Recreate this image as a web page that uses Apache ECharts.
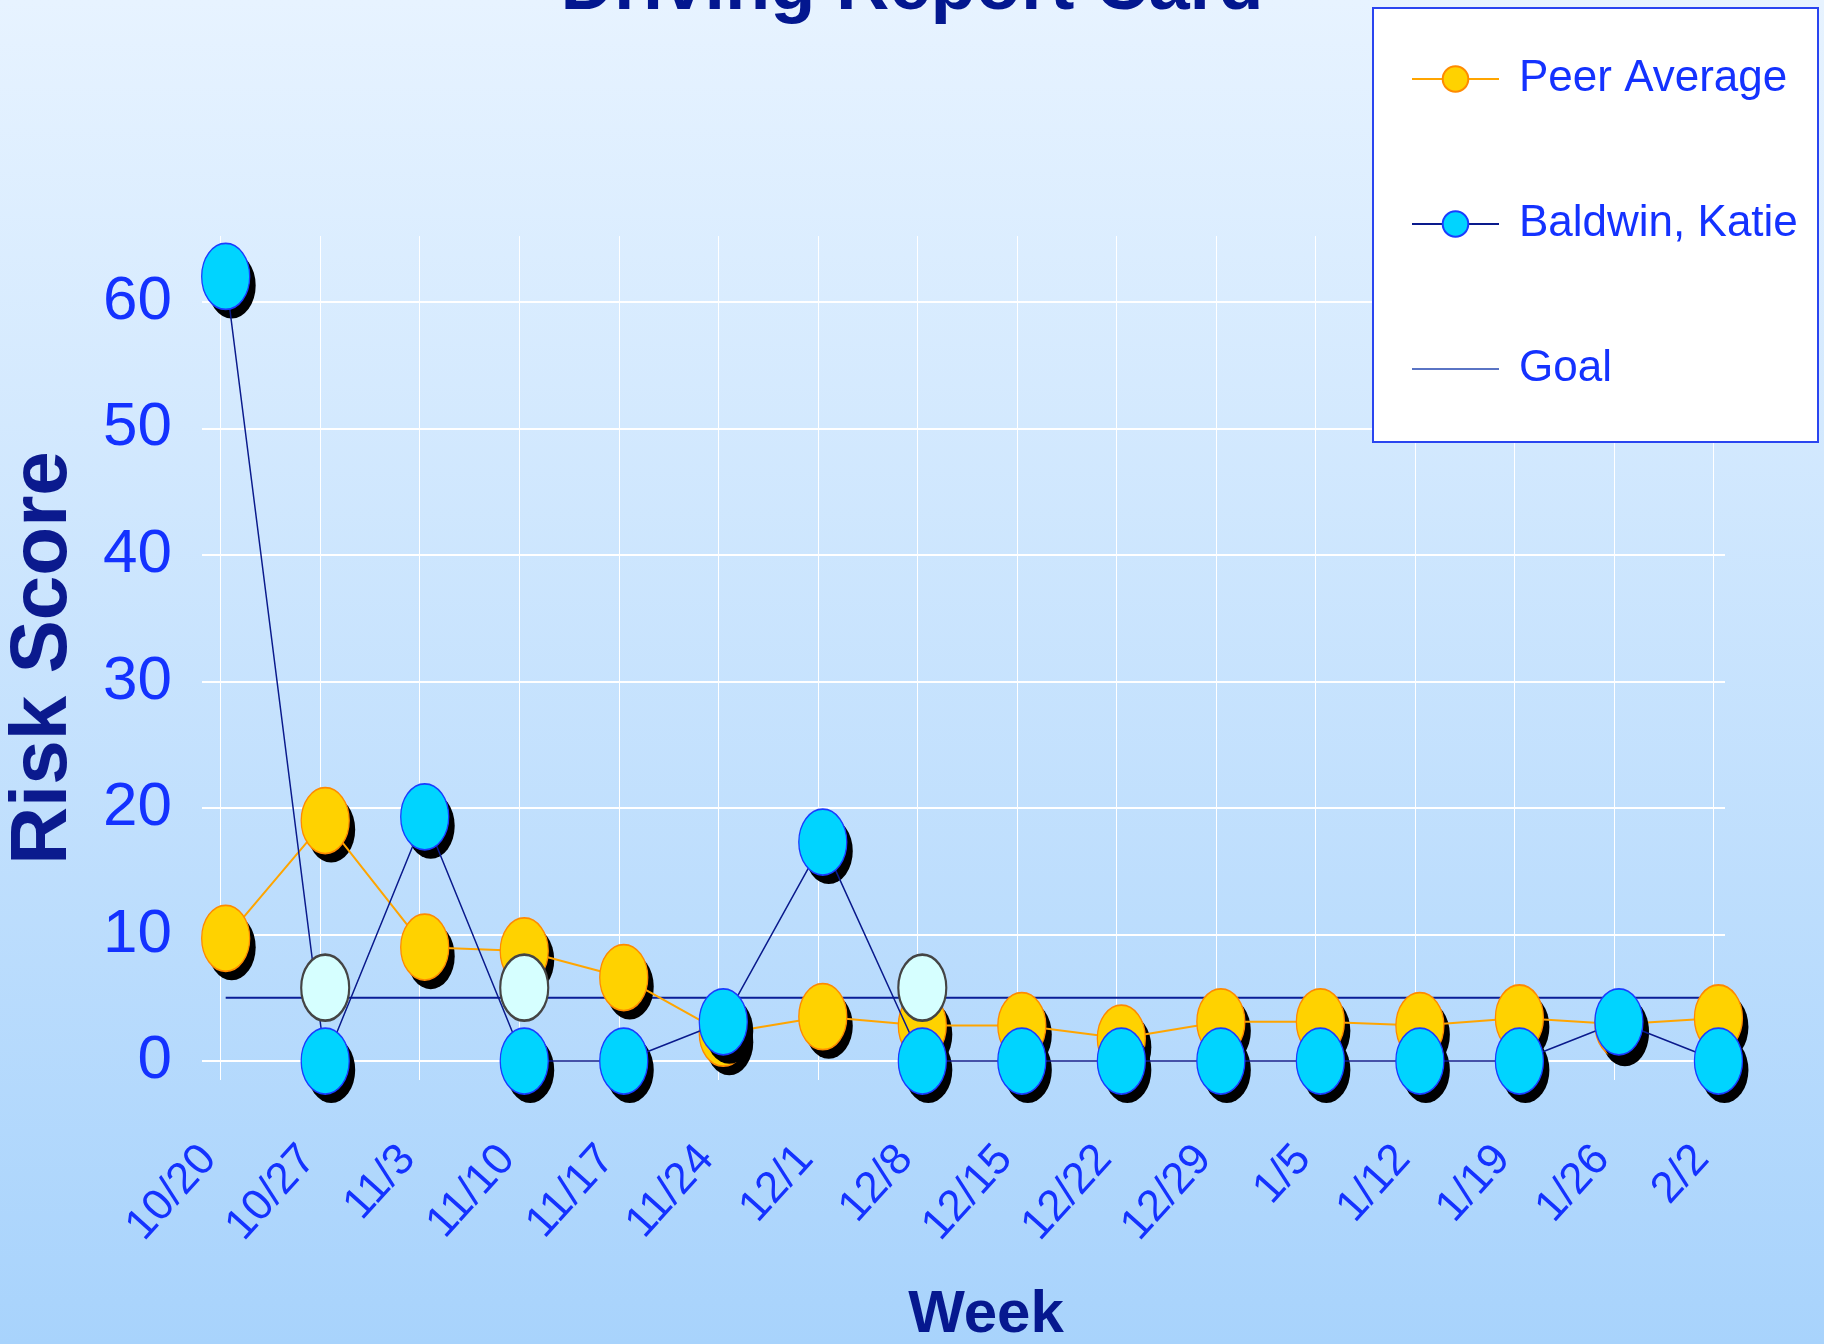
<!DOCTYPE html>
<html>
<head>
<meta charset="utf-8">
<script src="https://cdn.jsdelivr.net/npm/echarts@6/dist/echarts.min.js"></script>
<style>
html,body{margin:0;padding:0;}
#chart{width:1824px;height:1344px;}
</style>
</head>
<body>
<div id="chart"></div>
<script>
const weeks = ['10/20','10/27','11/3','11/10','11/17','11/24','12/1','12/8','12/15','12/22','12/29','1/5','1/12','1/19','1/26','2/2'];
const peerAverage = [9.7, 19.0, 9.0, 8.7, 6.6, 2.2, 3.5, 2.8, 2.8, 1.8, 3.1, 3.1, 2.8, 3.4, 2.9, 3.4];
const baldwinKatie = [62.0, 0, 19.3, 0, 0, 3.1, 17.3, 0, 0, 0, 0, 0, 0, 0, 3.1, 0];
const goal = [5, 5, 5, 5, 5, 5, 5, 5, 5, 5, 5, 5, 5, 5, 5, 5];
const flagged = [null, 5.8, null, 5.8, null, null, null, 5.8, null, null, null, null, null, null, null, null];
const yTicks = [0, 10, 20, 30, 40, 50, 60];

const FONT = "'Liberation Sans', Arial, sans-serif";

const pts = arr => arr.map((v, i) => [i, v]);
const gridPos = weeks.map((w, i) => i - 0.05);
const labelPos = weeks.map((w, i) => i - 0.17);

const chart = echarts.init(document.getElementById('chart'), null, {renderer: 'canvas'});
const MARK = [48, 66];
const SHADOW_OFF = [6, 9];

chart.setOption({
  animation: false,
  backgroundColor: {
    type: 'linear', x: 0, y: 0, x2: 0, y2: 1,
    colorStops: [{offset: 0, color: '#E7F3FF'}, {offset: 1, color: '#A8D3FC'}]
  },
  title: {
    text: 'Driving Report Card',
    left: 'center',
    top: -48,
    padding: 0,
    textStyle: {fontFamily: FONT, fontWeight: 'bold', fontSize: 74, color: '#03178F'}
  },
  graphic: [{
    type: 'rect', z: 5,
    shape: {x: 1373, y: 8, width: 445, height: 434},
    style: {fill: '#FFFFFF', stroke: '#2A45F0', lineWidth: 2}
  }],
  legend: {
    z: 10,
    orient: 'vertical',
    left: 1411,
    top: 49,
    padding: 0,
    itemGap: 85,
    itemWidth: 87,
    itemHeight: 32,
    textStyle: {fontFamily: FONT, fontSize: 44, color: '#1432FF', lineHeight: 60, padding: [0, 0, 0, 15]},
    itemStyle: {shadowBlur: 0, shadowColor: 'transparent', shadowOffsetX: 0, shadowOffsetY: 0},
    data: [
      {name: 'Peer Average'},
      {name: 'Baldwin, Katie'},
      {name: 'Goal', itemStyle: {color: 'transparent', borderColor: 'transparent', opacity: 0}, lineStyle: {color: '#5A74C4', width: 2}}
    ]
  },
  grid: {left: 202, right: 99, top: 236, bottom: 264, containLabel: false, outerBoundsMode: 'none'},
  xAxis: {
    type: 'value',
    min: -0.238,
    max: 15.066,
    name: 'Week',
    nameLocation: 'middle',
    nameGap: 205,
    nameTextStyle: {fontFamily: FONT, fontWeight: 'bold', fontSize: 60, color: '#06188F', padding: [0, 0, 0, 45]},
    axisLine: {show: false},
    axisTick: {show: false, customValues: gridPos},
    splitLine: {show: true, lineStyle: {color: '#FFFFFF', width: 1}},
    axisLabel: {
      customValues: labelPos,
      rotate: 48,
      margin: 72,
      fontFamily: FONT,
      fontSize: 44,
      color: '#1432FF',
      formatter: v => weeks[Math.round(v)]
    }
  },
  yAxis: {
    type: 'value',
    min: -1.5,
    max: 65.2,
    name: 'Risk Score',
    nameLocation: 'middle',
    nameRotate: 90,
    nameGap: 118,
    nameTextStyle: {fontFamily: FONT, fontWeight: 'bold', fontSize: 80, color: '#0B1A8E'},
    axisLine: {show: false},
    axisTick: {show: false, customValues: yTicks},
    splitLine: {show: true, lineStyle: {color: '#FFFFFF', width: 2}},
    axisLabel: {customValues: yTicks, margin: 30, fontFamily: FONT, fontSize: 62, color: '#1432FF'}
  },
  series: [
    {
      name: 'Goal', type: 'line', data: pts(goal),
      symbol: 'none',
      lineStyle: {color: '#0A1E96', width: 2},
      itemStyle: {color: '#5A74C4'},
      z: 2
    },
    {
      name: 'Peer Average shadow', type: 'scatter', data: pts(peerAverage),
      symbol: 'circle', symbolSize: MARK, symbolOffset: SHADOW_OFF, silent: true,
      itemStyle: {color: '#000000', opacity: 1},
      z: 3
    },
    {
      name: 'Peer Average', type: 'line', data: pts(peerAverage),
      symbol: 'circle', symbolSize: MARK,
      lineStyle: {color: '#FFA500', width: 2},
      itemStyle: {color: '#FFD200', borderColor: '#FF8A00', borderWidth: 1.5},
      z: 4
    },
    {
      name: 'Baldwin, Katie shadow', type: 'scatter', data: pts(baldwinKatie),
      symbol: 'circle', symbolSize: MARK, symbolOffset: SHADOW_OFF, silent: true,
      itemStyle: {color: '#000000', opacity: 1},
      z: 5
    },
    {
      name: 'Baldwin, Katie', type: 'line', data: pts(baldwinKatie),
      symbol: 'circle', symbolSize: MARK,
      lineStyle: {color: '#0A1A8C', width: 1.5},
      itemStyle: {color: '#00D4FF', borderColor: '#1A3CFF', borderWidth: 1.5},
      z: 6
    },
    {
      name: 'Flag', type: 'scatter', data: pts(flagged),
      symbol: 'circle', symbolSize: MARK,
      itemStyle: {color: '#D6FFFF', borderColor: '#444444', borderWidth: 2.5, opacity: 1},
      z: 7
    }
  ]
});
</script>
</body>
</html>
